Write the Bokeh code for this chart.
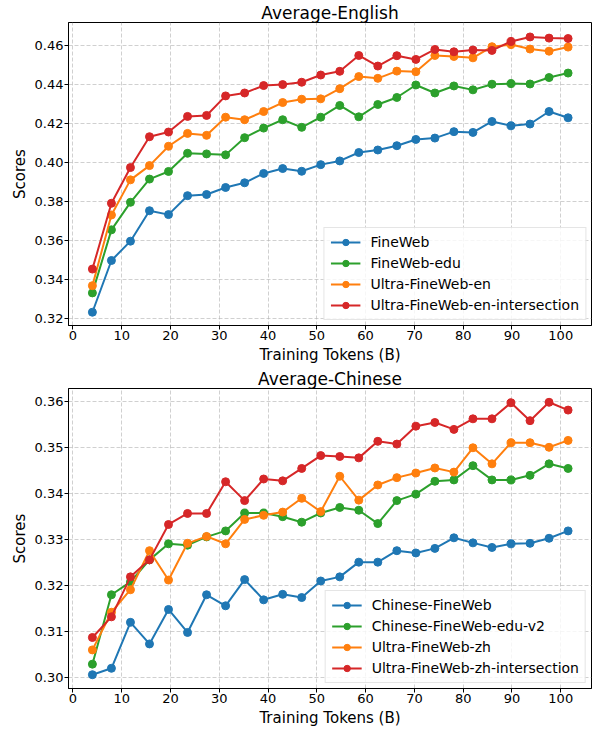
from bokeh.plotting import figure
from bokeh.layouts import column
from bokeh.models import SingleIntervalTicker, Range1d, NumeralTickFormatter
from bokeh.embed import file_html
from bokeh.resources import INLINE

tokens = [4.0, 7.9, 11.8, 15.7, 19.6, 23.5, 27.4, 31.3, 35.2, 39.1, 43.0, 46.9, 50.8,
          54.7, 58.6, 62.5, 66.4, 70.3, 74.2, 78.1, 82.0, 85.9, 89.8, 93.7, 97.6, 101.5]

en_fineweb = [0.3232, 0.3497, 0.3596, 0.3752, 0.3732, 0.3829, 0.3835, 0.3871, 0.3895, 0.3943, 0.3968, 0.3954, 0.3988,
              0.4007, 0.4050, 0.4063, 0.4085, 0.4117, 0.4124, 0.4157, 0.4153, 0.4209, 0.4187, 0.4196, 0.4260, 0.4228]
en_fineweb_edu = [0.3331, 0.3654, 0.3795, 0.3914, 0.3953, 0.4046, 0.4043, 0.4038, 0.4126, 0.4175, 0.4218, 0.4179, 0.4231,
                  0.4291, 0.4233, 0.4296, 0.4332, 0.4396, 0.4355, 0.4391, 0.4371, 0.4400, 0.4403, 0.4401, 0.4434, 0.4457]
en_ultra = [0.3368, 0.3730, 0.3910, 0.3983, 0.4082, 0.4148, 0.4138, 0.4231, 0.4218, 0.4260, 0.4306, 0.4323, 0.4325,
            0.4377, 0.4439, 0.4430, 0.4467, 0.4464, 0.4547, 0.4542, 0.4535, 0.4592, 0.4603, 0.4580, 0.4569, 0.4590]
en_ultra_inter = [0.3453, 0.3790, 0.3973, 0.4131, 0.4155, 0.4235, 0.4240, 0.4340, 0.4355, 0.4393, 0.4398, 0.4410, 0.4447,
                  0.4466, 0.4547, 0.4493, 0.4546, 0.4527, 0.4578, 0.4566, 0.4575, 0.4573, 0.4619, 0.4642, 0.4636, 0.4634]

zh_fineweb = [0.3006, 0.3020, 0.3120, 0.3073, 0.3148, 0.3098, 0.3180, 0.3156, 0.3213, 0.3169, 0.3181, 0.3174, 0.3210,
              0.3219, 0.3251, 0.3251, 0.3276, 0.3271, 0.3281, 0.3304, 0.3293, 0.3283, 0.3291, 0.3292, 0.3303, 0.3319]
zh_edu_v2 = [0.3029, 0.3180, 0.3208, 0.3256, 0.3291, 0.3288, 0.3306, 0.3319, 0.3358, 0.3358, 0.3350, 0.3338, 0.3358,
             0.3370, 0.3364, 0.3335, 0.3385, 0.3399, 0.3427, 0.3430, 0.3461, 0.3430, 0.3430, 0.3440, 0.3465, 0.3455]
zh_ultra = [0.3060, 0.3142, 0.3191, 0.3276, 0.3212, 0.3292, 0.3307, 0.3291, 0.3344, 0.3353, 0.3360, 0.3390, 0.3361,
            0.3438, 0.3386, 0.3419, 0.3435, 0.3445, 0.3456, 0.3447, 0.3500, 0.3465, 0.3511, 0.3511, 0.3501, 0.3516]
zh_ultra_inter = [0.3087, 0.3132, 0.3219, 0.3256, 0.3333, 0.3357, 0.3357, 0.3426, 0.3385, 0.3432, 0.3428, 0.3455, 0.3483,
                  0.3481, 0.3478, 0.3514, 0.3508, 0.3547, 0.3555, 0.3540, 0.3563, 0.3563, 0.3598, 0.3559, 0.3599, 0.3582]

en_labels = ["FineWeb", "FineWeb-edu", "Ultra-FineWeb-en", "Ultra-FineWeb-en-intersection"]
zh_labels = ["Chinese-FineWeb", "Chinese-FineWeb-edu-v2", "Ultra-FineWeb-zh", "Ultra-FineWeb-zh-intersection"]
colors = ["#1f77b4", "#2ca02c", "#ff7f0e", "#d62728"]

FONT = "DejaVu Sans"


def make_plot(title, series, labels, yr, ystep, height, top_border):
    p = figure(width=594, height=height, output_backend="svg", toolbar_location=None,
               x_range=Range1d(-0.9, 106.3), y_range=Range1d(*yr),
               min_border_left=68, min_border_right=3, min_border_top=top_border,
               min_border_bottom=40, title=title)
    p.title.text_font = FONT
    p.title.text_font_size = "17px"
    p.title.text_font_style = "normal"
    p.title.align = "center"
    p.title.standoff = 0
    p.title.text_color = "black"

    for ys, lab, c in zip(series, labels, colors):
        p.line(tokens, ys, line_color=c, line_width=2, legend_label=lab)
        p.scatter(tokens, ys, marker="circle", size=8, fill_color=c, line_color=c, legend_label=lab)

    p.xaxis.ticker = SingleIntervalTicker(interval=10)
    p.yaxis.ticker = SingleIntervalTicker(interval=ystep)
    p.yaxis.formatter = NumeralTickFormatter(format="0.00")
    p.xaxis.axis_label = "Training Tokens (B)"
    p.yaxis.axis_label = "Scores"
    for ax in (p.xaxis, p.yaxis):
        ax.axis_label_text_font = FONT
        ax.axis_label_text_font_size = "15px"
        ax.axis_label_text_font_style = "normal"
        ax.axis_label_text_color = "black"
        ax.major_label_text_font = FONT
        ax.major_label_text_font_size = "13px"
        ax.major_label_text_color = "black"
        ax.minor_tick_line_color = None
        ax.major_tick_in = 0
        ax.major_tick_out = 4
        ax.major_tick_line_color = "black"
        ax.axis_line_color = "black"
        ax.major_label_standoff = 1
        ax.axis_label_standoff = 3

    p.grid.grid_line_color = "#b0b0b0"
    p.grid.grid_line_alpha = 0.6
    p.grid.grid_line_dash = "4 2"
    p.outline_line_color = "black"
    p.outline_line_alpha = 1
    p.outline_line_width = 1

    lg = p.legend[0]
    lg.location = "bottom_right"
    lg.label_text_font = FONT
    lg.label_text_font_size = "14px"
    lg.label_text_color = "black"
    lg.glyph_width = 30
    lg.glyph_height = 16
    lg.label_height = 16
    lg.label_standoff = 10
    lg.spacing = 5
    lg.padding = 6
    lg.margin = 5
    lg.border_line_color = "#cccccc"
    lg.border_line_width = 1
    lg.background_fill_alpha = 0.8
    return p


p1 = make_plot("Average-English", [en_fineweb, en_fineweb_edu, en_ultra, en_ultra_inter], en_labels,
               (0.3164, 0.4716), 0.02, 366, 22)
p2 = make_plot("Average-Chinese", [zh_fineweb, zh_edu_v2, zh_ultra, zh_ultra_inter], zh_labels,
               (0.2976, 0.3629), 0.01, 363, 21)

layout = column(p1, p2, spacing=0)
open("out.html", "w").write(file_html(layout, INLINE))
